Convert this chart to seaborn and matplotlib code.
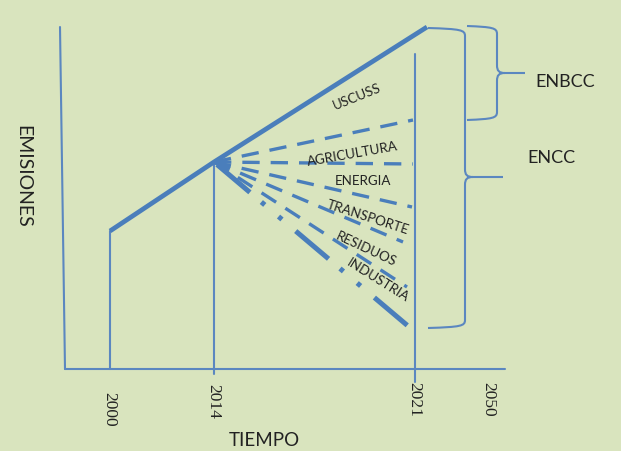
import numpy as np
import pandas as pd
import matplotlib.pyplot as plt
import seaborn as sns
from matplotlib.path import Path
import matplotlib.patches as mpatches

# ---------------- data (schematic units: x = time position, y = emission level) ----------------
years = ['2000', '2014', '2021', '2050']
year_x = [110, 214, 415, 484]

# emisiones tendenciales (linea gruesa)
trend_x = [110, 214, 427]
trend_y = [220, 289, 424]

# trayectorias sectoriales que salen de 2014
sectors = ['USCUSS', 'AGRICULTURA', 'ENERGIA', 'TRANSPORTE', 'RESIDUOS', 'INDUSTRIA']
path_end_x = [413, 413, 412, 403, 407, 408]
path_end_y = [331, 287, 244, 209, 164, 125]

# ---------------- style ----------------
BG = '#d9e4be'
BLUE = '#4a7ebb'
THIN = '#5b87c0'
TXT = '#222222'

sns.set_theme(style='white')
plt.rcParams['font.family'] = ['Lato', 'DejaVu Sans']

fig = plt.figure(figsize=(6.21, 4.52), dpi=100, facecolor=BG)
ax = fig.add_axes([0, 0, 1, 1])
ax.set_facecolor(BG)
ax.set_xlim(0, 621)
ax.set_ylim(0, 452)
ax.axis('off')

def seg(xs, ys, **kw):
    sns.lineplot(x=xs, y=ys, ax=ax, estimator=None, sort=False, **kw)

# ejes
seg([60, 65], [424, 82], color=THIN, linewidth=1.5)
seg([65, 505], [82, 82], color=THIN, linewidth=1.5)

# verticales de los años
seg([year_x[0], year_x[0]], [82, trend_y[0]], color=THIN, linewidth=1.5)
seg([year_x[1], year_x[1]], [77, trend_y[1]], color=THIN, linewidth=1.5)
seg([year_x[2], year_x[2]], [69, 397], color=THIN, linewidth=1.5)

# linea tendencial
seg(trend_x, trend_y, color=BLUE, linewidth=3.4, solid_capstyle='butt')

# trayectorias sectoriales
x0, y0 = trend_x[1], trend_y[1]
for i, (ex, ey) in enumerate(zip(path_end_x, path_end_y)):
    if i < len(path_end_x) - 1:
        seg([x0, ex], [y0, ey], color=BLUE, linewidth=2.4,
            linestyle=(0, (5.2, 3.3)), dash_capstyle='butt')
    else:
        seg([x0, ex], [y0, ey], color=BLUE, linewidth=3.6,
            linestyle=(19.8, (8.6, 3.0, 0.9, 3.6, 0.9, 3.6)), dash_capstyle='butt')

# etiquetas sectoriales
label_pos = [(357, 355, 22), (352, 298, 10), (363, 271, 0),
             (368, 235, -18), (366, 203, -25), (378, 172, -32)]
for name, (lx, ly, rot) in zip(sectors, label_pos):
    ax.text(lx, ly, name, rotation=rot, rotation_mode='anchor', ha='center',
            va='center', fontsize=9.6, color=TXT)

# años
year_label_y = [43, 51, 53, 53]
for yr, xx, yy in zip(years, year_x, year_label_y):
    ax.text(xx - 1 if yr != '2050' else xx + 4, yy, yr, rotation=-90, ha='center', va='center',
            fontsize=12.5, family=['Liberation Serif'], color=TXT)

ax.text(264, 11, 'TIEMPO', ha='center', va='center', fontsize=13.5, color=TXT)
ax.text(23, 276, 'EMISIONES', rotation=-90, ha='center', va='center', fontsize=14, color=TXT)

# llaves
def brace(xl, xs, xt, ytop, ymid, ybot, c=8):
    up = [(xl, ytop), (xs - 4, ytop - 1), (xs, ytop - 2), (xs, ytop - c),
          (xs, ymid + c), (xs, ymid + 2), (xs + 2, ymid), (xs + c, ymid), (xt, ymid)]
    up_codes = [Path.MOVETO, Path.CURVE4, Path.CURVE4, Path.CURVE4,
                Path.LINETO, Path.CURVE4, Path.CURVE4, Path.CURVE4, Path.LINETO]
    lo = [(xs + c, ymid), (xs + 2, ymid), (xs, ymid - 2), (xs, ymid - c),
          (xs, ybot + c), (xs, ybot + 2), (xs - 4, ybot + 1), (xl, ybot)]
    lo_codes = [Path.MOVETO, Path.CURVE4, Path.CURVE4, Path.CURVE4,
                Path.LINETO, Path.CURVE4, Path.CURVE4, Path.CURVE4]
    p = Path(up + lo, up_codes + lo_codes)
    ax.add_patch(mpatches.PathPatch(p, facecolor='none', edgecolor=THIN, linewidth=1.5))

brace(428, 465, 503, 423, 274, 123)
brace(467, 497, 525, 425, 378, 331)

ax.text(565, 370, 'ENBCC', ha='center', va='center', fontsize=13, color=TXT)
ax.text(551, 294, 'ENCC', ha='center', va='center', fontsize=13, color=TXT)

fig.savefig('out.png', dpi=100, facecolor=BG)
